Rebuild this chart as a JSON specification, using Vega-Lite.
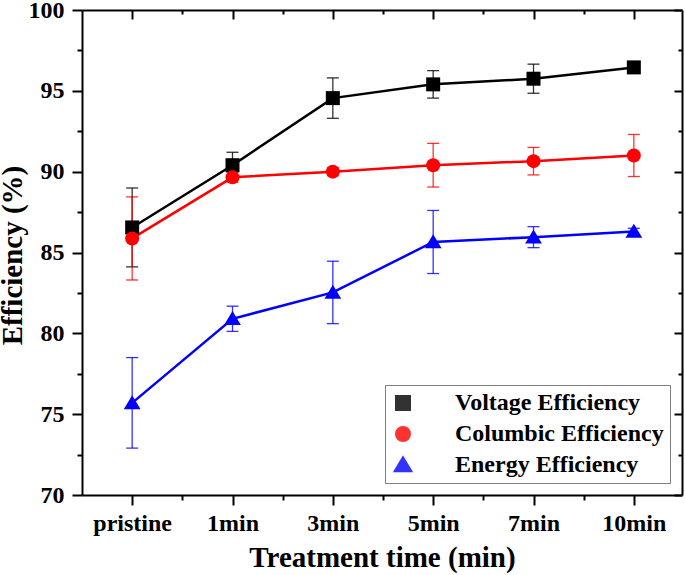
{
  "$schema": "https://vega.github.io/schema/vega-lite/v6.json",
  "width": 600,
  "height": 485,
  "autosize": {"type": "none"},
  "padding": {"left": 82, "top": 10, "right": 3, "bottom": 80},
  "background": "white",
  "config": {
    "view": {"stroke": null},
    "axis": {
      "labelFont": "Liberation Serif", "labelFontWeight": "bold", "labelFontSize": 24, "labelColor": "black",
      "titleFont": "Liberation Serif", "titleFontWeight": "bold", "titleFontSize": 29, "titleColor": "black",
      "domainColor": "black", "domainWidth": 2, "tickColor": "black", "tickWidth": 2,
      "grid": false, "labelOverlap": false, "labelFlush": false
    },
    "legend": {
      "title": null, "orient": "bottom-right", "offset": 12, "padding": 6,
      "strokeColor": "#808080", "fillColor": "white",
      "labelFont": "Liberation Serif", "labelFontWeight": "bold", "labelFontSize": 24, "labelColor": "black",
      "labelLimit": 400, "symbolSize": 196, "labelOffset": 40, "rowPadding": 7, "symbolStrokeWidth": 2
    }
  },
  "data": {
    "values": [
      {"series": "Voltage Efficiency", "time": "pristine", "idx": 0, "value": 86.55, "err": 2.44},
      {"series": "Voltage Efficiency", "time": "1min", "idx": 1, "value": 90.4, "err": 0.8},
      {"series": "Voltage Efficiency", "time": "3min", "idx": 2, "value": 94.55, "err": 1.25},
      {"series": "Voltage Efficiency", "time": "5min", "idx": 3, "value": 95.4, "err": 0.85},
      {"series": "Voltage Efficiency", "time": "7min", "idx": 4, "value": 95.75, "err": 0.9},
      {"series": "Voltage Efficiency", "time": "10min", "idx": 5, "value": 96.45, "err": 0.2},
      {"series": "Columbic Efficiency", "time": "pristine", "idx": 0, "value": 85.87, "err": 2.57},
      {"series": "Columbic Efficiency", "time": "1min", "idx": 1, "value": 89.65, "err": 0.3},
      {"series": "Columbic Efficiency", "time": "3min", "idx": 2, "value": 90.0, "err": 0.25},
      {"series": "Columbic Efficiency", "time": "5min", "idx": 3, "value": 90.4, "err": 1.35},
      {"series": "Columbic Efficiency", "time": "7min", "idx": 4, "value": 90.65, "err": 0.85},
      {"series": "Columbic Efficiency", "time": "10min", "idx": 5, "value": 91.0, "err": 1.3},
      {"series": "Energy Efficiency", "time": "pristine", "idx": 0, "value": 75.7, "err": 2.8},
      {"series": "Energy Efficiency", "time": "1min", "idx": 1, "value": 80.9, "err": 0.78},
      {"series": "Energy Efficiency", "time": "3min", "idx": 2, "value": 82.53, "err": 1.93},
      {"series": "Energy Efficiency", "time": "5min", "idx": 3, "value": 85.65, "err": 1.95},
      {"series": "Energy Efficiency", "time": "7min", "idx": 4, "value": 85.95, "err": 0.65},
      {"series": "Energy Efficiency", "time": "10min", "idx": 5, "value": 86.3, "err": 0.2}
    ]
  },
  "layer": [
    {
      "mark": {"type": "errorbar", "ticks": {"size": 12}, "thickness": 1.3, "opacity": 0.8},
      "encoding": {
        "x": {
          "field": "idx", "type": "quantitative",
          "scale": {"domain": [-0.5, 5.48], "nice": false, "zero": false},
          "axis": {
            "orient": "top", "title": null, "labels": false,
            "values": [0, 0.5, 1, 1.5, 2, 2.5, 3, 3.5, 4, 4.5, 5],
            "tickSize": {"condition": {"test": "datum.value % 1 === 0", "value": -9}, "value": -4}
          }
        },
        "y": {
          "field": "value", "type": "quantitative",
          "scale": {"domain": [70, 100], "nice": false, "zero": false},
          "axis": {
            "orient": "right", "title": null, "labels": false,
            "values": [70, 72.5, 75, 77.5, 80, 82.5, 85, 87.5, 90, 92.5, 95, 97.5, 100],
            "tickSize": {"condition": {"test": "datum.value % 5 === 0", "value": -8}, "value": -4}
          }
        },
        "yError": {"field": "err"},
        "color": {
          "field": "series", "type": "nominal",
          "scale": {
            "domain": ["Voltage Efficiency", "Columbic Efficiency", "Energy Efficiency"],
            "range": ["#000000", "#ff0000", "#0000ff"]
          }
        }
      }
    },
    {
      "mark": {"type": "line", "strokeWidth": 2.5},
      "encoding": {
        "x": {
          "field": "idx", "type": "quantitative",
          "axis": {
            "orient": "bottom", "title": "Treatment time (min)", "titlePadding": 8, "labelPadding": 6,
            "values": [0, 0.5, 1, 1.5, 2, 2.5, 3, 3.5, 4, 4.5, 5],
            "labelExpr": "datum.value % 1 === 0 ? ['pristine','1min','3min','5min','7min','10min'][datum.value] : ''",
            "tickSize": {"condition": {"test": "datum.value % 1 === 0", "value": 10}, "value": 5}
          }
        },
        "y": {
          "field": "value", "type": "quantitative",
          "axis": {
            "orient": "left", "title": "Efficiency (%)", "titleX": -61, "titleY": 245, "titleBaseline": "alphabetic", "labelPadding": 8,
            "values": [70, 72.5, 75, 77.5, 80, 82.5, 85, 87.5, 90, 92.5, 95, 97.5, 100],
            "labelExpr": "datum.value % 5 === 0 ? format(datum.value, 'd') : ''",
            "tickSize": {"condition": {"test": "datum.value % 5 === 0", "value": 10}, "value": 5}
          }
        },
        "color": {"field": "series", "type": "nominal"}
      }
    },
    {
      "mark": {"type": "point", "filled": true, "opacity": 1, "size": 196},
      "encoding": {
        "x": {"field": "idx", "type": "quantitative", "axis": null},
        "y": {"field": "value", "type": "quantitative", "axis": null},
        "color": {"field": "series", "type": "nominal"},
        "shape": {
          "field": "series", "type": "nominal",
          "scale": {
            "domain": ["Voltage Efficiency", "Columbic Efficiency", "Energy Efficiency"],
            "range": ["M-1,-1H1V1H-1Z", "circle", "M0,-1.1L1.2,0.9H-1.2Z"]
          }
        }
      }
    }
  ],
  "resolve": {"axis": {"x": "independent", "y": "independent"}}
}
